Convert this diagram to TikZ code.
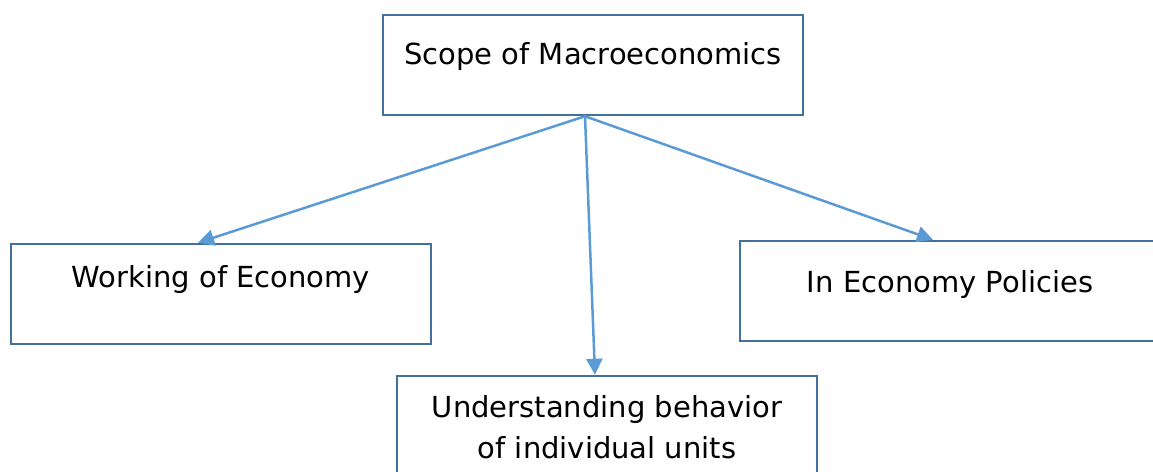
\documentclass[tikz,border=0pt]{standalone}
\usepackage{fontspec}
\setmainfont{DejaVu Sans}
\usetikzlibrary{arrows.meta}
\definecolor{boxblue}{HTML}{41719C}
\definecolor{arrowblue}{HTML}{5B9BD5}

\begin{document}
\begin{tikzpicture}[x=1pt, y=-1pt, font=\fontsize{29}{41}\selectfont]
    \tikzstyle{box_style} = [rectangle, draw=boxblue, line width=2.5pt, minimum width=420pt, minimum height=100pt, inner sep=0pt, align=center]
    \tikzstyle{arrow_style} = [draw=arrowblue, line width=2.5pt, -{Triangle[length=16pt, width=16pt]}]
    \useasboundingbox (0,0) rectangle (1153,471);
    \node[box_style, text height=49pt, text depth=51pt] (scope) at (593,65) {Scope of Macroeconomics};
    \node[box_style, text height=43pt, text depth=57pt] (working) at (221,294) {Working of Economy};
    \node[box_style, text height=51pt, text depth=49pt] (policies) at (950,291) {In Economy Policies};
    \node[box_style, text height=82pt, text depth=18pt] (units) at (607,426) {Understanding behavior\\of individual units};

    \coordinate (src) at ([xshift=-8pt]scope.south);
    \draw[arrow_style] (src) -- ([xshift=-23pt]working.north);
    \draw[arrow_style] (src) -- ([xshift=-12pt]units.north);
    \draw[arrow_style] (src) -- ([xshift=-17pt]policies.north);
\end{tikzpicture}
\end{document}
